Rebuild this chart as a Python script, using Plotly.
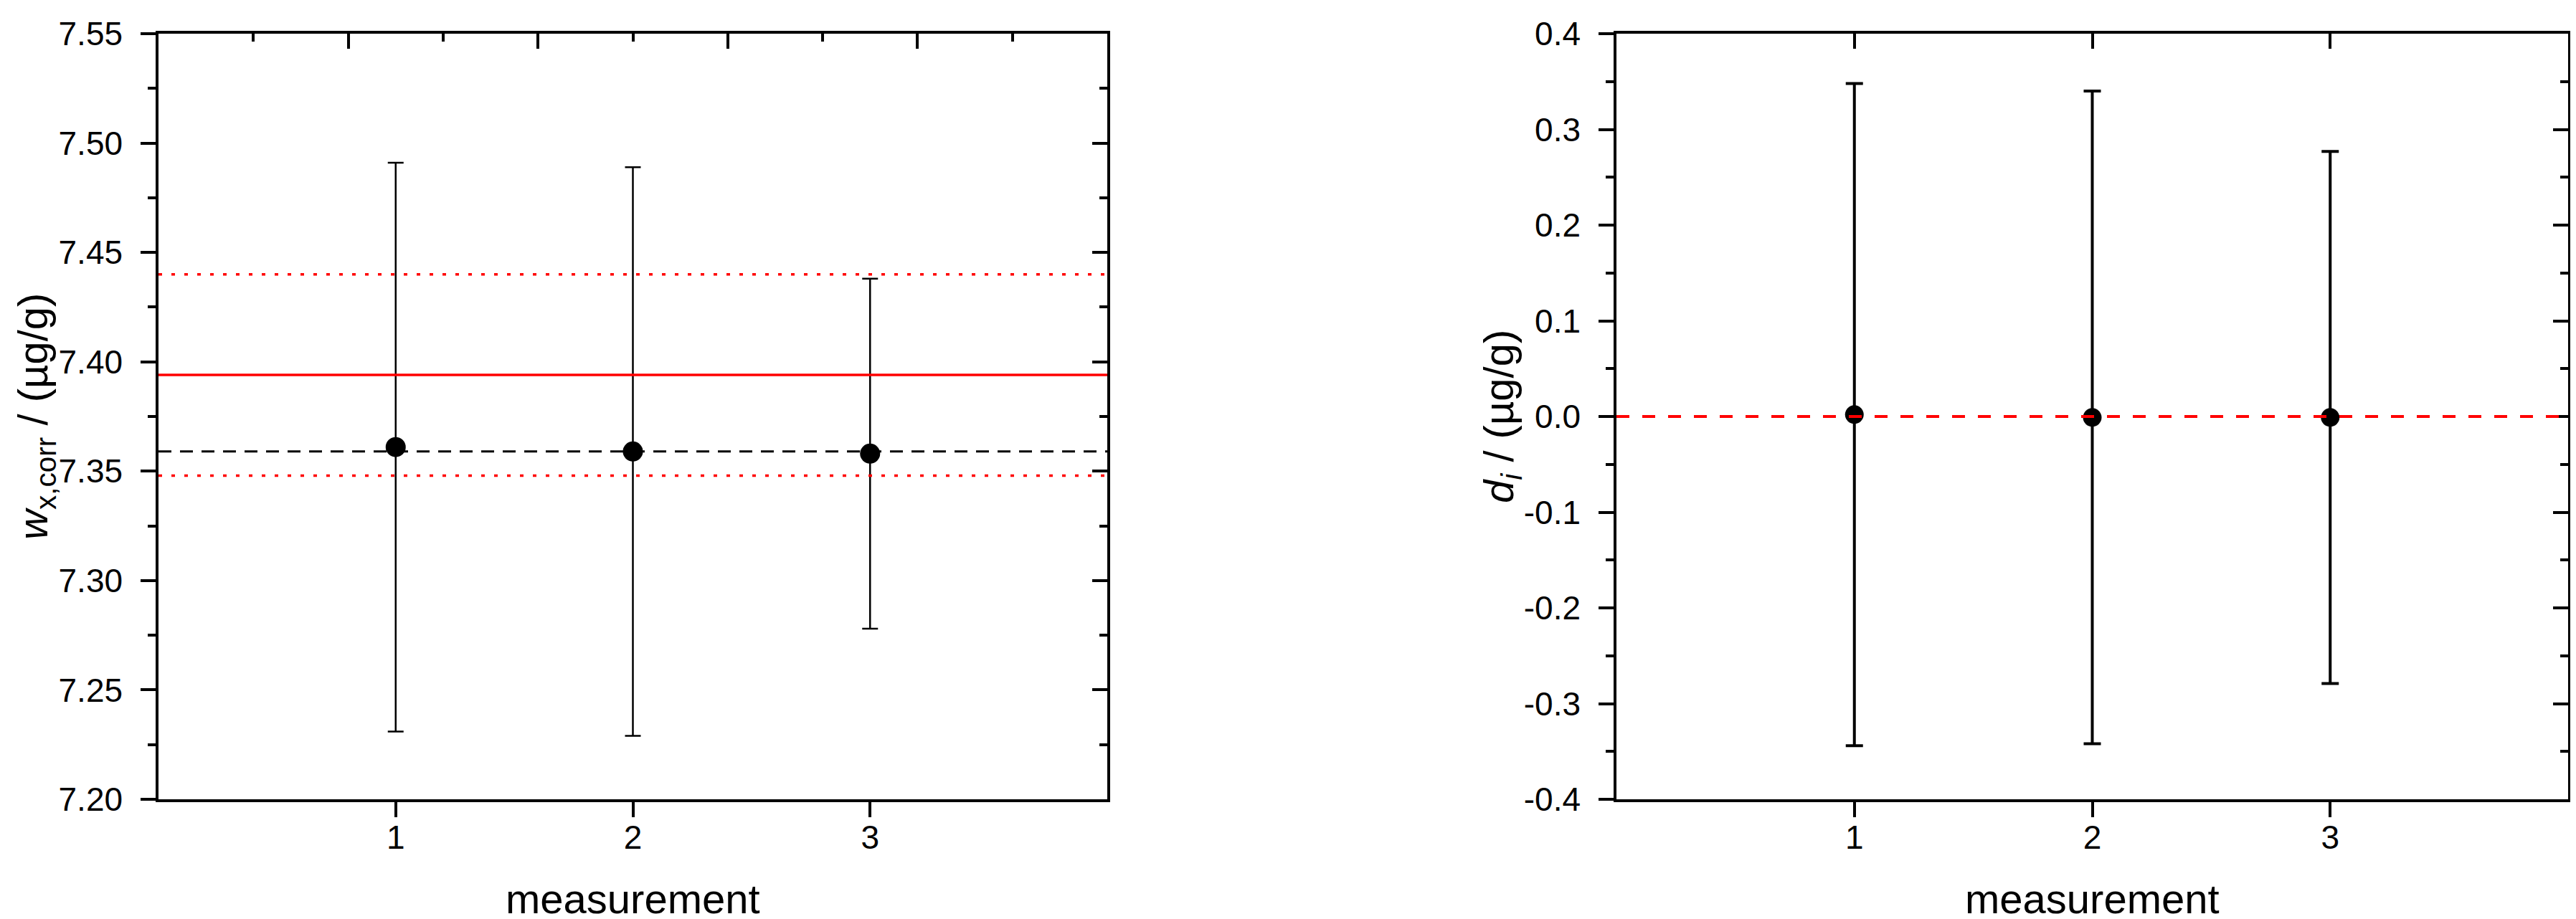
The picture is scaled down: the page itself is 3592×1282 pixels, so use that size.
import plotly.graph_objects as go

# ---------------- data ----------------
measurement = [1, 2, 3]

# left panel: corrected mass fractions w_x,corr (µg/g)
w_corr = [7.361, 7.359, 7.358]
w_corr_err = [0.130, 0.130, 0.080]
w_mean = 7.359            # black dashed line
ref_value = 7.394         # red solid line
ref_upper = 7.440         # red dotted lines
ref_lower = 7.348

# right panel: differences d_i (µg/g)
d_i = [0.002, -0.001, -0.001]
d_i_err = [0.346, 0.341, 0.278]
d_zero = 0.0

x_ticks = [1, 2, 3]
x_range = [0, 4]
x_top_range_left = [0, 5]
y_range_left = [7.20, 7.55]
y_ticks_left = [7.20, 7.25, 7.30, 7.35, 7.40, 7.45, 7.50, 7.55]
y_range_right = [-0.4, 0.4]
y_ticks_right = [-0.4, -0.3, -0.2, -0.1, 0.0, 0.1, 0.2, 0.3, 0.4]

x_title = "measurement"
y_title_left = "<i>w</i><sub>x,corr</sub> / (µg/g)"
y_title_right = "<i>d<sub>i</sub></i> / (µg/g)"

# ---------------- figure ----------------
W, H = 3592, 1282
FONT = "Liberation Sans, Arial, sans-serif"
TICKFS = 46
TITLEFS = 58
LW = 3.5
MAJ = 21
MIN = 11

ml, mr, mt, mb = 213, 19, 39, 175
pw = W - ml - mr
ph = H - mt - mb
dom_left = [0, (1536 - ml) / pw]
dom_right = [(2246 - ml) / pw, 1]


def px_x(px):
    return (px - ml) / pw


def px_y(py):
    return (H - mb - py) / ph


fig = go.Figure()

fig.add_trace(go.Scatter(
    x=measurement, y=w_corr, mode="markers", xaxis="x", yaxis="y",
    marker=dict(color="black", size=28, symbol="circle"),
    error_y=dict(type="data", array=w_corr_err, visible=True,
                 color="black", thickness=2.5, width=11),
    showlegend=False))

fig.add_trace(go.Scatter(
    x=measurement, y=d_i, mode="markers", xaxis="x2", yaxis="y2",
    marker=dict(color="black", size=26, symbol="circle"),
    error_y=dict(type="data", array=d_i_err, visible=True,
                 color="black", thickness=4, width=12),
    showlegend=False))

# dummy traces so overlay (mirror) axes are drawn
for xa, ya in [("x3", "y3"), ("x4", "y4")]:
    fig.add_trace(go.Scatter(x=[None], y=[None], xaxis=xa, yaxis=ya,
                             showlegend=False, hoverinfo="skip"))


def hline(y, xref, yref, color, dash, width):
    fig.add_shape(type="line", xref=xref, yref=yref, x0=0, x1=1, y0=y, y1=y,
                  line=dict(color=color, dash=dash, width=width), layer="above")


hline(ref_upper, "x domain", "y", "#ff0000", "5px,13px", 3.5)
hline(ref_lower, "x domain", "y", "#ff0000", "5px,13px", 3.5)
hline(ref_value, "x domain", "y", "#ff0000", "solid", 3.5)
hline(w_mean, "x domain", "y", "black", "18px,12px", 3)
hline(d_zero, "x2 domain", "y2", "#ff0000", "18px,18px", 4)

tickfont = dict(family=FONT, size=TICKFS, color="black")
titlefont = dict(family=FONT, size=TITLEFS, color="black")

common_x = dict(range=x_range, tickvals=x_ticks, ticks="outside", ticklen=MAJ,
                tickwidth=LW, tickcolor="black", showline=True, linewidth=LW,
                linecolor="black", showgrid=False, zeroline=False,
                tickfont=tickfont, ticklabelstandoff=-11)

common_y = dict(ticks="outside", ticklen=MAJ, tickwidth=LW, tickcolor="black",
                showline=True, linewidth=LW, linecolor="black", showgrid=False,
                zeroline=False, tickfont=tickfont, ticklabelstandoff=16)

mirror = dict(ticklen=MAJ, tickwidth=LW, ticks="inside", tickcolor="black",
              showticklabels=False, showline=True, linewidth=LW,
              linecolor="black", showgrid=False, zeroline=False)

fig.update_layout(
    width=W, height=H,
    margin=dict(l=ml, r=mr, t=mt, b=mb),
    paper_bgcolor="white", plot_bgcolor="white",
    font=dict(family=FONT, color="black"),
    xaxis=dict(common_x, domain=dom_left, anchor="y"),
    yaxis=dict(common_y, range=y_range_left, tickvals=y_ticks_left,
               ticktext=[f"{v:.2f}" for v in y_ticks_left], anchor="x",
               minor=dict(ticks="outside", dtick=0.025, tick0=7.2, ticklen=MIN,
                          tickwidth=LW, tickcolor="black")),
    xaxis2=dict(common_x, domain=dom_right, anchor="y2"),
    yaxis2=dict(common_y, range=y_range_right, tickvals=y_ticks_right,
                ticktext=[f"{v:.1f}" for v in y_ticks_right], anchor="x2",
                minor=dict(ticks="outside", dtick=0.05, tick0=-0.4, ticklen=MIN,
                           tickwidth=LW, tickcolor="black")),
    # mirrored top/right axes with inward ticks
    xaxis3=dict(mirror, overlaying="x", anchor="y", side="top",
                range=x_top_range_left, dtick=1, tick0=0,
                minor=dict(ticks="inside", dtick=0.5, tick0=0, ticklen=MIN,
                           tickwidth=LW, tickcolor="black")),
    yaxis3=dict(mirror, overlaying="y", anchor="x", side="right",
                range=y_range_left, tickvals=y_ticks_left,
                minor=dict(ticks="inside", dtick=0.025, tick0=7.2, ticklen=MIN,
                           tickwidth=LW, tickcolor="black")),
    xaxis4=dict(mirror, overlaying="x2", anchor="y2", side="top",
                range=x_range, tickvals=x_ticks),
    yaxis4=dict(mirror, overlaying="y2", anchor="x2", side="right",
                range=y_range_right, tickvals=y_ticks_right,
                minor=dict(ticks="inside", dtick=0.05, tick0=-0.4, ticklen=MIN,
                           tickwidth=LW, tickcolor="black")),
)

# axis titles
title_y_px = 1245
for dom in (dom_left, dom_right):
    fig.add_annotation(text=x_title, xref="paper", yref="paper",
                       x=(dom[0] + dom[1]) / 2, y=px_y(title_y_px),
                       xanchor="center", yanchor="middle", showarrow=False,
                       font=titlefont)

mid_y = px_y((mt + H - mb) / 2)
fig.add_annotation(text=y_title_left, xref="paper", yref="paper",
                   x=px_x(42), y=mid_y, textangle=-90, xanchor="center",
                   yanchor="middle", showarrow=False, font=titlefont)
fig.add_annotation(text=y_title_right, xref="paper", yref="paper",
                   x=px_x(2086), y=mid_y, textangle=-90, xanchor="center",
                   yanchor="middle", showarrow=False, font=titlefont)

fig.write_html("out.html")
